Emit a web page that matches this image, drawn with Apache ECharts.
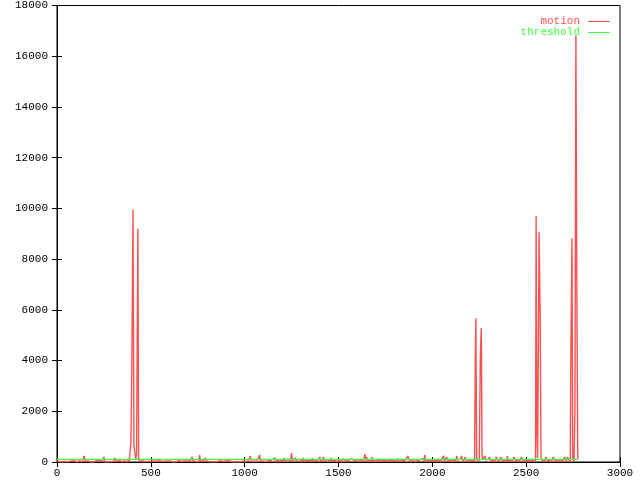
<!DOCTYPE html>
<html><head><meta charset="utf-8">
<script src="https://cdn.jsdelivr.net/npm/echarts@6/dist/echarts.min.js"></script>
<style>html,body{margin:0;padding:0;background:#fff}#c{width:640px;height:480px}</style>
</head><body><div id="c"></div>
<script>
// motion baseline readings, one every 5 frames (x = 0, 5, 10, ...)
const noiseStep = 5;
const motionNoise = [
 20,0,40,10,30,0,10,50,0,20,
 40,10,0,30,10,40,20,0,50,10,
 30,0,20,60,40,10,20,0,30,240,
 30,10,0,40,10,60,0,20,40,0,
 20,0,50,30,10,60,30,0,20,40,
 200,10,40,20,0,50,30,10,40,0,
 20,40,160,10,40,20,60,0,20,10,
 0,30,40,10,30,0,130,20,60,30,
 40,20,80,40,120,60,60,30,40,10,
 20,40,50,0,10,30,40,20,30,0,
 20,0,0,40,40,10,30,0,10,50,
 50,20,20,0,0,30,30,40,40,10,
 10,30,20,0,0,40,40,10,30,50,
 50,10,10,20,20,40,40,0,60,30,
 30,0,50,20,200,40,40,10,20,60,
 60,10,275,30,30,0,50,20,160,40,
 40,0,20,30,60,10,30,0,10,40,
 40,10,20,0,50,30,0,20,30,10,
 40,0,20,50,60,10,10,30,30,0,
 50,10,20,40,40,0,0,30,30,10,
 20,0,40,10,60,30,240,20,50,0,
 30,60,70,10,40,20,275,30,60,10,
 30,0,50,20,20,60,60,10,40,80,
 80,20,160,0,50,90,90,10,60,100,
 100,20,160,40,70,0,110,60,60,30,
 355,20,90,0,160,40,70,10,120,60,
 60,0,160,20,90,50,50,10,110,80,
 80,0,160,40,60,100,100,20,50,120,
 200,10,70,90,200,30,60,0,110,70,
 40,0,160,50,90,20,60,110,120,10,
 50,100,100,0,70,130,130,20,40,90,
 90,0,110,60,60,120,120,30,80,10,
 100,40,50,0,120,90,90,20,315,60,
 200,10,80,110,110,0,200,40,60,90,
 100,0,50,120,120,20,80,60,60,0,
 110,40,90,0,40,120,120,10,70,100,
 100,0,60,130,130,20,80,40,50,0,
 110,60,90,20,240,100,100,0,60,120,
 120,10,80,50,50,0,110,90,90,20,
 130,40,275,0,70,110,110,10,60,100,
 100,0,80,120,120,30,60,110,110,0,
 90,60,240,0,80,200,200,20,100,60,
 60,0,120,90,90,10,240,80,80,20,
 110,240,240,0,90,200,200,10,70,120,
 120,20,90,100,100,0,110,80,80,20,
 120,90,90,110,110,40,240,70,70,0,
 120,200,200,10,90,60,60,0,200,110,
 110,30,80,200,200,10,90,120,120,20,
 240,0,80,110,110,20,60,200,200,10,
 100,90,90,0,120,200,200,30,70,110,
 110,0,80,120,120,20,60,100,100,0,
 120,90,90,110,80,120,120,60,60,120,
 60,200,200,10,90,110,110,0,70,200,
 200,20,100,80,80,0,120,60,60,10,
 110,200,200,30,200,120,120,0,90,110,
 110,40,80,100,100,100
];
// large motion events [frame, value]
const motionPeaks = [
 [394,830],[399,3900],[405,9950],[410,620],[416,650],[424,300],[431,9200],[435,150],
 [2229,4060],[2232,5670],[2236,150],[2256,4250],[2261,5280],[2265,200],
 [2553,9700],[2557,1400],[2561,150],[2569,9060],[2575,5450],[2579,200],
 [2738,3950],[2744,8820],[2748,150],[2760,2150],[2765,16820],[2770,6890],[2775,100]
];
const thresholdValue = 100;
const lastFrame = 2775;
const xTicks = [0,500,1000,1500,2000,2500,3000];
const yTicks = [0,2000,4000,6000,8000,10000,12000,14000,16000,18000];

const motionData = [];
motionNoise.forEach((v,i)=>{
  const x = i*noiseStep;
  if (!motionPeaks.some(p=>Math.abs(p[0]-x)<=2)) motionData.push([x,v]);
});
motionPeaks.forEach(p=>motionData.push(p));
motionData.sort((a,b)=>a[0]-b[0]);
const thresholdData = [[0,thresholdValue],[lastFrame,thresholdValue]];

const RED='#ff5050', GREEN='#40ff40';
const font = 'Liberation Mono';
const chart = echarts.init(document.getElementById('c'),null,{renderer:'canvas'});
const axisCommon = {
  type:'value', axisLine:{show:true,lineStyle:{color:'#000',width:1}},
  axisTick:{show:true,inside:true,length:5,lineStyle:{color:'#000'}},
  splitLine:{show:false}
};
const fmt = v => String(v);
chart.setOption({
  animation:false,
  backgroundColor:'#fff',
  grid:{left:57,right:20,top:5,bottom:18,show:true,borderColor:'#000',borderWidth:1},
  legend:[
    {data:[{name:'motion'}],right:30,top:16,orient:'vertical',icon:'rect',itemWidth:22,itemHeight:1,
     align:'right',itemGap:0,padding:0,textStyle:{color:RED,fontFamily:font,fontSize:11,lineHeight:11,padding:[0,3,0,0]}},
    {data:[{name:'threshold'}],right:30,top:27,orient:'vertical',icon:'rect',itemWidth:22,itemHeight:1,
     align:'right',itemGap:0,padding:0,textStyle:{color:GREEN,fontFamily:font,fontSize:11,lineHeight:11,padding:[0,3,0,0]}}
  ],
  xAxis:[
    Object.assign({},axisCommon,{position:'bottom',min:xTicks[0],max:xTicks[xTicks.length-1],interval:500,
      axisLabel:{color:'#000',fontFamily:font,fontSize:11,margin:6,formatter:fmt}}),
    Object.assign({},axisCommon,{position:'top',min:xTicks[0],max:xTicks[xTicks.length-1],interval:500,
      axisLabel:{show:false}})
  ],
  yAxis:[
    Object.assign({},axisCommon,{position:'left',min:yTicks[0],max:yTicks[yTicks.length-1],interval:2000,
      axisLabel:{color:'#000',fontFamily:font,fontSize:11,margin:9,formatter:fmt}}),
    Object.assign({},axisCommon,{position:'right',min:yTicks[0],max:yTicks[yTicks.length-1],interval:2000,
      axisLabel:{show:false}})
  ],
  series:[
    {name:'motion',type:'line',data:motionData,showSymbol:false,symbol:'none',
     lineStyle:{color:RED,width:1.4},itemStyle:{color:RED},z:5,sampling:null},
    {name:'threshold',type:'line',data:thresholdData,showSymbol:false,symbol:'none',
     lineStyle:{color:GREEN,width:1.2},itemStyle:{color:GREEN},z:6}
  ]
});
</script></body></html>
